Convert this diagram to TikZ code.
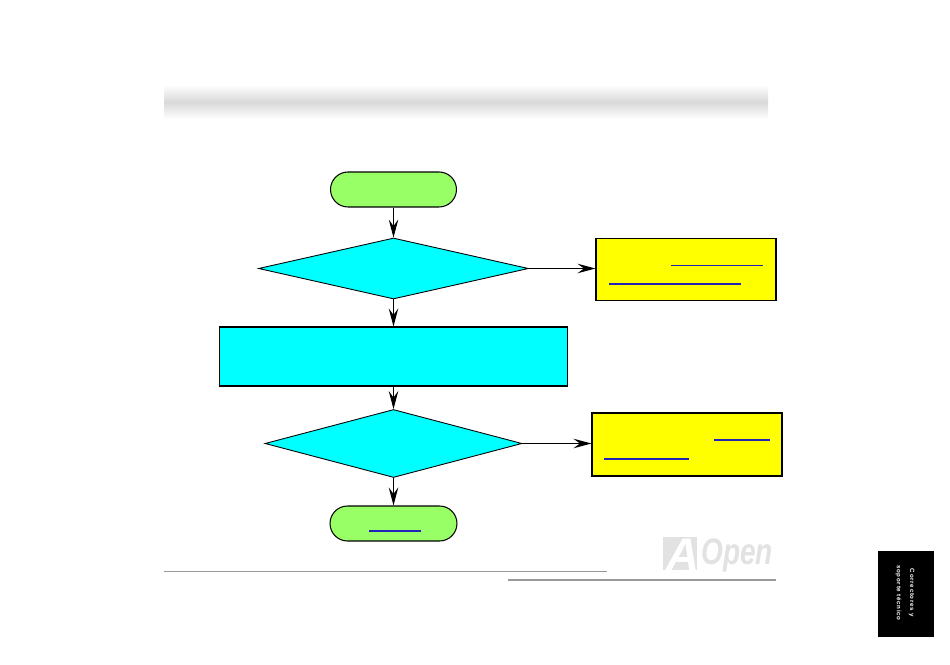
\documentclass[tikz,border=0pt]{standalone}
\usepackage{fontspec}
\setmainfont{Liberation Sans}
\usetikzlibrary{arrows.meta,shapes.geometric,shapes.misc,positioning}

\definecolor{startgreen}{HTML}{99FF66}
\definecolor{boxcyan}{HTML}{00FFFF}
\definecolor{noteyellow}{HTML}{FFFF00}
\definecolor{linkblue}{HTML}{2222BB}
\definecolor{rulegray}{HTML}{999999}
\definecolor{logogray}{HTML}{E2E2E2}

\tikzset{
    terminal/.style={rounded rectangle,draw,fill=startgreen,line width=0.6pt,minimum height=0.70cm,inner sep=0pt},
    decision/.style={diamond,draw,fill=boxcyan,line width=0.5pt,inner sep=0pt},
    process/.style={rectangle,draw,fill=boxcyan,line width=0.6pt,inner sep=0pt},
    note/.style={rectangle,draw,fill=noteyellow,line width=0.6pt,inner sep=0pt},
    flow/.style={-{Stealth[length=0.36cm,width=0.19cm,inset=0.13cm]},line width=0.55pt},
    link/.style={linkblue,line width=0.6pt},
    footrule/.style={rulegray,line width=0.6pt},
    tabtext/.style={text=white,rotate=-90,font=\bfseries\addfontfeature{LetterSpace=12}\fontsize{3.5}{5}\selectfont,inner sep=0pt}
}

\begin{document}
\begin{tikzpicture}[x=0.02cm,y=-0.02cm]
    \useasboundingbox (0,0) rectangle (950,665);

    % Title band
    \shade[top color=white,bottom color=white,middle color=black!15] (164,85) rectangle (768,119);

    % Flow chart boxes
    \node[terminal,minimum width=2.52cm] (start) at (393.5,189.5) {};
    \node[decision,minimum width=5.40cm,minimum height=1.22cm,aspect=4.4] (checkA) at (393.5,268.5) {};
    \node[process,minimum width=6.98cm,minimum height=1.18cm] (action) at (393.5,356.5) {};
    \node[decision,minimum width=5.14cm,minimum height=1.36cm,aspect=3.8] (checkB) at (393.5,443.5) {};
    \node[terminal,minimum width=2.54cm] (finish) at (393.5,523.5) {};
    \node[note,minimum width=3.60cm,minimum height=1.24cm] (noteA) at (686,269.5) {};
    \node[note,minimum width=3.80cm,minimum height=1.26cm] (noteB) at (687,444.5) {};

    % Connectors
    \draw[flow] (start) -- (checkA);
    \draw[flow] (checkA) -- (action);
    \draw[flow] (action) -- (checkB);
    \draw[flow] (checkB) -- (finish);
    \draw[flow] (checkA.east) -- (checkA.east -| noteA.west);
    \draw[flow] (checkB.east) -- (checkB.east -| noteB.west);

    % Link underlines
    \draw[link] (671,265.5) -- (763,265.5);
    \draw[link] (609,284) -- (741,284);
    \draw[link] (714,440) -- (770,440);
    \draw[link] (604,459) -- (689,459);
    \draw[link] (369,531) -- (421,531);

    % Footer rules
    \draw[footrule] (164,571.5) -- (607,571.5);
    \draw[footrule] (508,580) -- (776,580);

    % Logo
    \fill[logogray] (663,537) rectangle (697,570);
    \node[text=white,font=\bfseries\itshape\fontsize{26}{26}\selectfont,inner sep=0pt] (logoA) at (683,554.5) {A};
    \node[text=logogray,font=\bfseries\itshape\fontsize{21}{21}\selectfont,inner sep=0pt,anchor=west,xscale=0.76] (logoOpen) at (701,555) {Open};

    % Side tab
    \fill[black] (878,551) rectangle (934,637);
    \node[tabtext] (tabA) at (911.5,593) {Correctores y};
    \node[tabtext] (tabB) at (898.5,593) {soporte técnico};
\end{tikzpicture}
\end{document}
